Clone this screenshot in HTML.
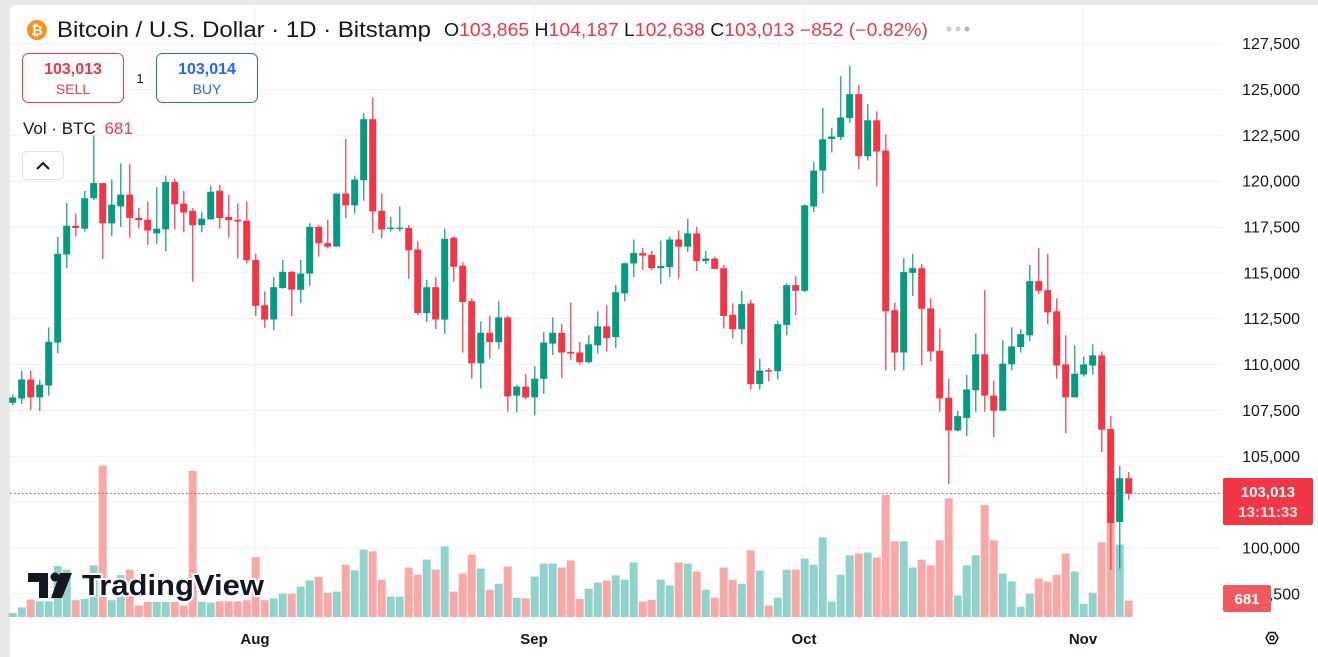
<!DOCTYPE html>
<html><head><meta charset="utf-8">
<style>
html,body{margin:0;padding:0;width:1318px;height:657px;overflow:hidden;background:#e9e9ea;font-family:"Liberation Sans",sans-serif;}
#p{position:absolute;left:10px;top:5px;width:1308px;height:652px;background:#fff;border-radius:6px 0 0 0;}
svg{position:absolute;left:0;top:0;}
.ax{font-size:16px;fill:#131722;}
.tl{font-size:15px;fill:#131722;font-weight:bold;}
</style></head><body>
<div id="p"></div>
<svg width="1318" height="657" viewBox="0 0 1318 657" xmlns="http://www.w3.org/2000/svg" font-family="Liberation Sans, sans-serif">
<g id="grid" stroke="#f0f1f3" stroke-width="1"></g>
<g id="vol"></g>
<line x1="10" y1="493.5" x2="1222" y2="493.5" stroke="#f23645" stroke-width="1" stroke-dasharray="1.5,2.5"/>
<g id="cnd"></g>
<!-- header -->
<circle cx="37" cy="30" r="10" fill="#f7931a"/>
<text x="37" y="35" font-size="14" font-weight="bold" fill="#fff" text-anchor="middle">₿</text>
<text x="57" y="37" font-size="22" fill="#131722" textLength="374" lengthAdjust="spacingAndGlyphs">Bitcoin / U.S. Dollar · 1D · Bitstamp</text>
<text x="444" y="36" font-size="18" fill="#131722" textLength="484" lengthAdjust="spacingAndGlyphs">O<tspan fill="#f23645">103,865</tspan> H<tspan fill="#f23645">104,187</tspan> L<tspan fill="#f23645">102,638</tspan> C<tspan fill="#f23645">103,013</tspan> <tspan fill="#f23645">−852 (−0.82%)</tspan></text>
<circle cx="949" cy="29" r="2.5" fill="#c9cbd0"/><circle cx="958" cy="29" r="2.5" fill="#c9cbd0"/><circle cx="967" cy="29" r="2.5" fill="#b2b5be"/>
<rect x="22.5" y="53.5" width="101" height="49" rx="6" fill="#fff" stroke="#f23645"/>
<text x="73" y="74" font-size="16" font-weight="bold" fill="#f23645" text-anchor="middle">103,013</text>
<text x="73" y="94" font-size="14" fill="#f23645" text-anchor="middle">SELL</text>
<text x="140" y="83" font-size="13" fill="#131722" text-anchor="middle">1</text>
<rect x="156.5" y="53.5" width="101" height="49" rx="6" fill="#fff" stroke="#2962ff"/>
<text x="207" y="74" font-size="16" font-weight="bold" fill="#2962ff" text-anchor="middle">103,014</text>
<text x="207" y="94" font-size="14" fill="#2962ff" text-anchor="middle">BUY</text>
<text x="23" y="134" font-size="17" fill="#131722">Vol · BTC <tspan fill="#f23645" dx="4">681</tspan></text>
<rect x="22.5" y="151.5" width="41" height="28" rx="4" fill="#fff" stroke="#e0e3eb"/>
<path d="M37 169 L43 163 L49 169" fill="none" stroke="#131722" stroke-width="2"/>
<!-- logo -->
<g>
<path d="M28 573 H48 V598 H39 V582 H28 Z" fill="#131722"/>
<circle cx="55" cy="577" r="4.5" fill="#131722"/>
<path d="M60 573 H72 L62 598 H51 Z" fill="#131722"/>
<text x="82" y="595" font-size="29" font-weight="bold" fill="#131722" stroke="#fff" stroke-width="4" paint-order="stroke" textLength="182" lengthAdjust="spacingAndGlyphs">TradingView</text>
</g>
<!-- axis -->
<g class="ax" text-anchor="end" id="axl"></g>
<rect x="1223" y="478" width="90" height="47" rx="2" fill="#f23645"/>
<text x="1268" y="497" font-size="15" fill="#fff" text-anchor="middle" font-weight="bold">103,013</text>
<text x="1268" y="517" font-size="15" fill="#fde0e2" text-anchor="middle" font-weight="bold">13:11:33</text>
<rect x="1223" y="585" width="48" height="27" rx="2" fill="#f05a5f"/>
<text x="1247" y="604" font-size="15" fill="#fff" text-anchor="middle" font-weight="bold">681</text>
<text class="tl" x="255" y="644" text-anchor="middle">Aug</text>
<text class="tl" x="534" y="644" text-anchor="middle">Sep</text>
<text class="tl" x="804" y="644" text-anchor="middle">Oct</text>
<text class="tl" x="1083" y="644" text-anchor="middle">Nov</text>
<path d="M1266 638 L1269 632.5 H1275 L1278 638 L1275 643.5 H1269 Z" fill="none" stroke="#131722" stroke-width="1.5"/>
<circle cx="1272" cy="638" r="2" fill="none" stroke="#131722" stroke-width="1.5"/>
</svg>
<script>
var D=[
"G,940,955,932,962,1540","G,890,943,865,958,1525","R,890,940,865,975,1503","G,905,940,890,978,1508","G,785,907,745,935,1508",
"G,540,787,493,817,1410","G,462,542,398,580,1420","R,462,468,428,492,1505","G,385,470,365,478,1502","G,343,385,210,390,1408",
"R,343,455,343,555,1130","G,403,455,333,490,1505","G,375,408,288,465,1435","R,375,440,290,495,1420","R,440,446,412,470,1520",
"R,445,475,395,515,1510","G,470,483,355,512,1510","G,340,472,322,533,1510","R,340,402,330,472,1510","R,400,425,365,480,1520",
"R,420,460,413,618,1145","G,442,460,423,480,1510","G,367,444,350,445,1512","R,364,440,348,470,1508","R,437,446,375,495,1508",
"R,445,450,400,553,1508","R,448,558,395,567,1505","R,557,685,540,713,1385","R,683,723,645,746,1505","G,633,723,605,752,1500",
"G,590,635,557,637,1487","R,590,640,588,713,1487","G,595,640,557,677,1467","G,465,595,455,630,1450","R,465,510,460,548,1440",
"R,510,520,445,525,1484","G,372,520,372,520,1481","R,372,405,220,440,1406","G,333,405,322,428,1422","G,165,335,148,392,1364",
"R,165,422,105,482,1369","R,420,472,372,497,1448","G,467,469,437,478,1495","G,467,469,408,478,1495","R,468,530,460,610,1414",
"R,528,705,505,710,1434","G,633,705,613,730,1392","R,633,723,605,750,1420","G,498,723,470,763,1355","R,495,576,492,618,1481",
"R,573,674,563,815,1431","R,672,845,664,888,1378","G,760,845,728,915,1417","R,760,786,713,832,1476","G,717,786,672,805,1459",
"R,717,937,713,980,1411","G,910,935,905,982,1498","R,910,940,875,945,1500","G,888,940,853,990,1439","G,787,888,758,930,1403",
"G,760,790,717,822,1403","R,760,815,736,885,1414","R,813,818,675,835,1394","R,815,842,785,848,1501","G,792,842,767,845,1473",
"G,742,795,700,818,1456","R,742,775,683,812,1450","G,647,772,627,803,1436","G,566,650,566,672,1448","G,538,567,500,605,1400",
"R,538,545,523,585,1509","R,543,580,532,585,1504","G,574,580,503,623,1448","G,500,577,492,605,1464","R,500,520,475,608,1400",
"G,483,520,442,535,1403","R,483,560,465,588,1425","G,553,560,532,568,1476","R,553,582,548,582,1498","R,580,713,571,748,1414",
"R,710,750,678,776,1448","G,680,750,643,792,1459","R,678,903,668,918,1366","G,865,903,832,918,1422","R,864,867,858,895,1520",
"G,736,867,728,890,1498","G,627,738,622,767,1420","R,627,643,602,711,1420","G,405,643,403,647,1389","G,308,408,283,423,1406",
"G,221,308,133,372,1330","G,213,220,190,258,1509","G,160,215,45,223,1434","G,95,162,17,175,1380","R,95,268,70,305,1375",
"G,168,268,123,280,1372","R,168,255,143,352,1386","R,252,700,207,865,1212","R,697,815,675,865,1341","G,591,815,552,865,1341",
"G,580,593,540,658,1414","R,580,693,568,850,1392","R,692,812,664,840,1408","R,810,943,748,980,1338","R,941,1032,888,1182,1221",
"G,992,1032,978,1035,1492","G,918,997,877,1047,1408","G,820,920,762,980,1380","R,820,935,641,980,1240","R,935,977,893,1050,1338",
"G,846,977,781,977,1431","G,798,848,745,865,1453","G,764,800,750,815,1523","G,616,767,571,783,1487","R,616,643,524,652,1445",
"R,641,703,540,736,1453","R,700,851,664,888,1434","R,848,940,767,1040,1375","G,874,940,795,940,1425","G,848,876,826,882,1515",
"G,823,851,792,876,1484","R,823,1030,812,1092,1344","R,1028,1290,991,1420,1168","G,1165,1287,1131,1417,1350","R,1165,1208,1148,1225,1506"];
var ns="http://www.w3.org/2000/svg";
function el(t,a,p){var e=document.createElementNS(ns,t);for(var k in a)e.setAttribute(k,a[k]);p.appendChild(e);return e;}
function Y(z){return 60+z/2.786;}
var g=document.getElementById('grid'),v=document.getElementById('vol'),c=document.getElementById('cnd'),ax=document.getElementById('axl');
var labs=["127,500","125,000","122,500","120,000","117,500","115,000","112,500","110,000","107,500","105,000","","100,000","97,500"];
for(var i=0;i<13;i++){var y=43.6+i*45.85;el('line',{x1:10,x2:1222,y1:y.toFixed(1),y2:y.toFixed(1)},g);
 if(labs[i]){var t=el('text',{x:1300,y:(y+5.5).toFixed(1)},ax);t.textContent=labs[i];}}
[255,534,804,1083].forEach(function(x){el('line',{x1:x,x2:x,y1:5,y2:622},g);});
D.forEach(function(s,i){var a=s.split(','),col=a[0]=='G'?'#089981':'#f23645',vc=a[0]=='G'?'#92d2cc':'#f7a9a7';
 var x=12.7+9*i;
 var vt=Y(+a[5]);el('rect',{x:(x-4).toFixed(1),y:vt.toFixed(1),width:8,height:(617-vt).toFixed(1),fill:vc},v);
 el('rect',{x:(x-0.5).toFixed(1),y:Y(+a[3]).toFixed(1),width:1.2,height:(Y(+a[4])-Y(+a[3])).toFixed(1),fill:col},c);
 var bt=Y(+a[1]),bb=Y(+a[2]);if(bb-bt<1.5)bb=bt+1.5;
 el('rect',{x:(x-3.5).toFixed(1),y:bt.toFixed(1),width:7,height:(bb-bt).toFixed(1),fill:col},c);
});
</script>
</body></html>
